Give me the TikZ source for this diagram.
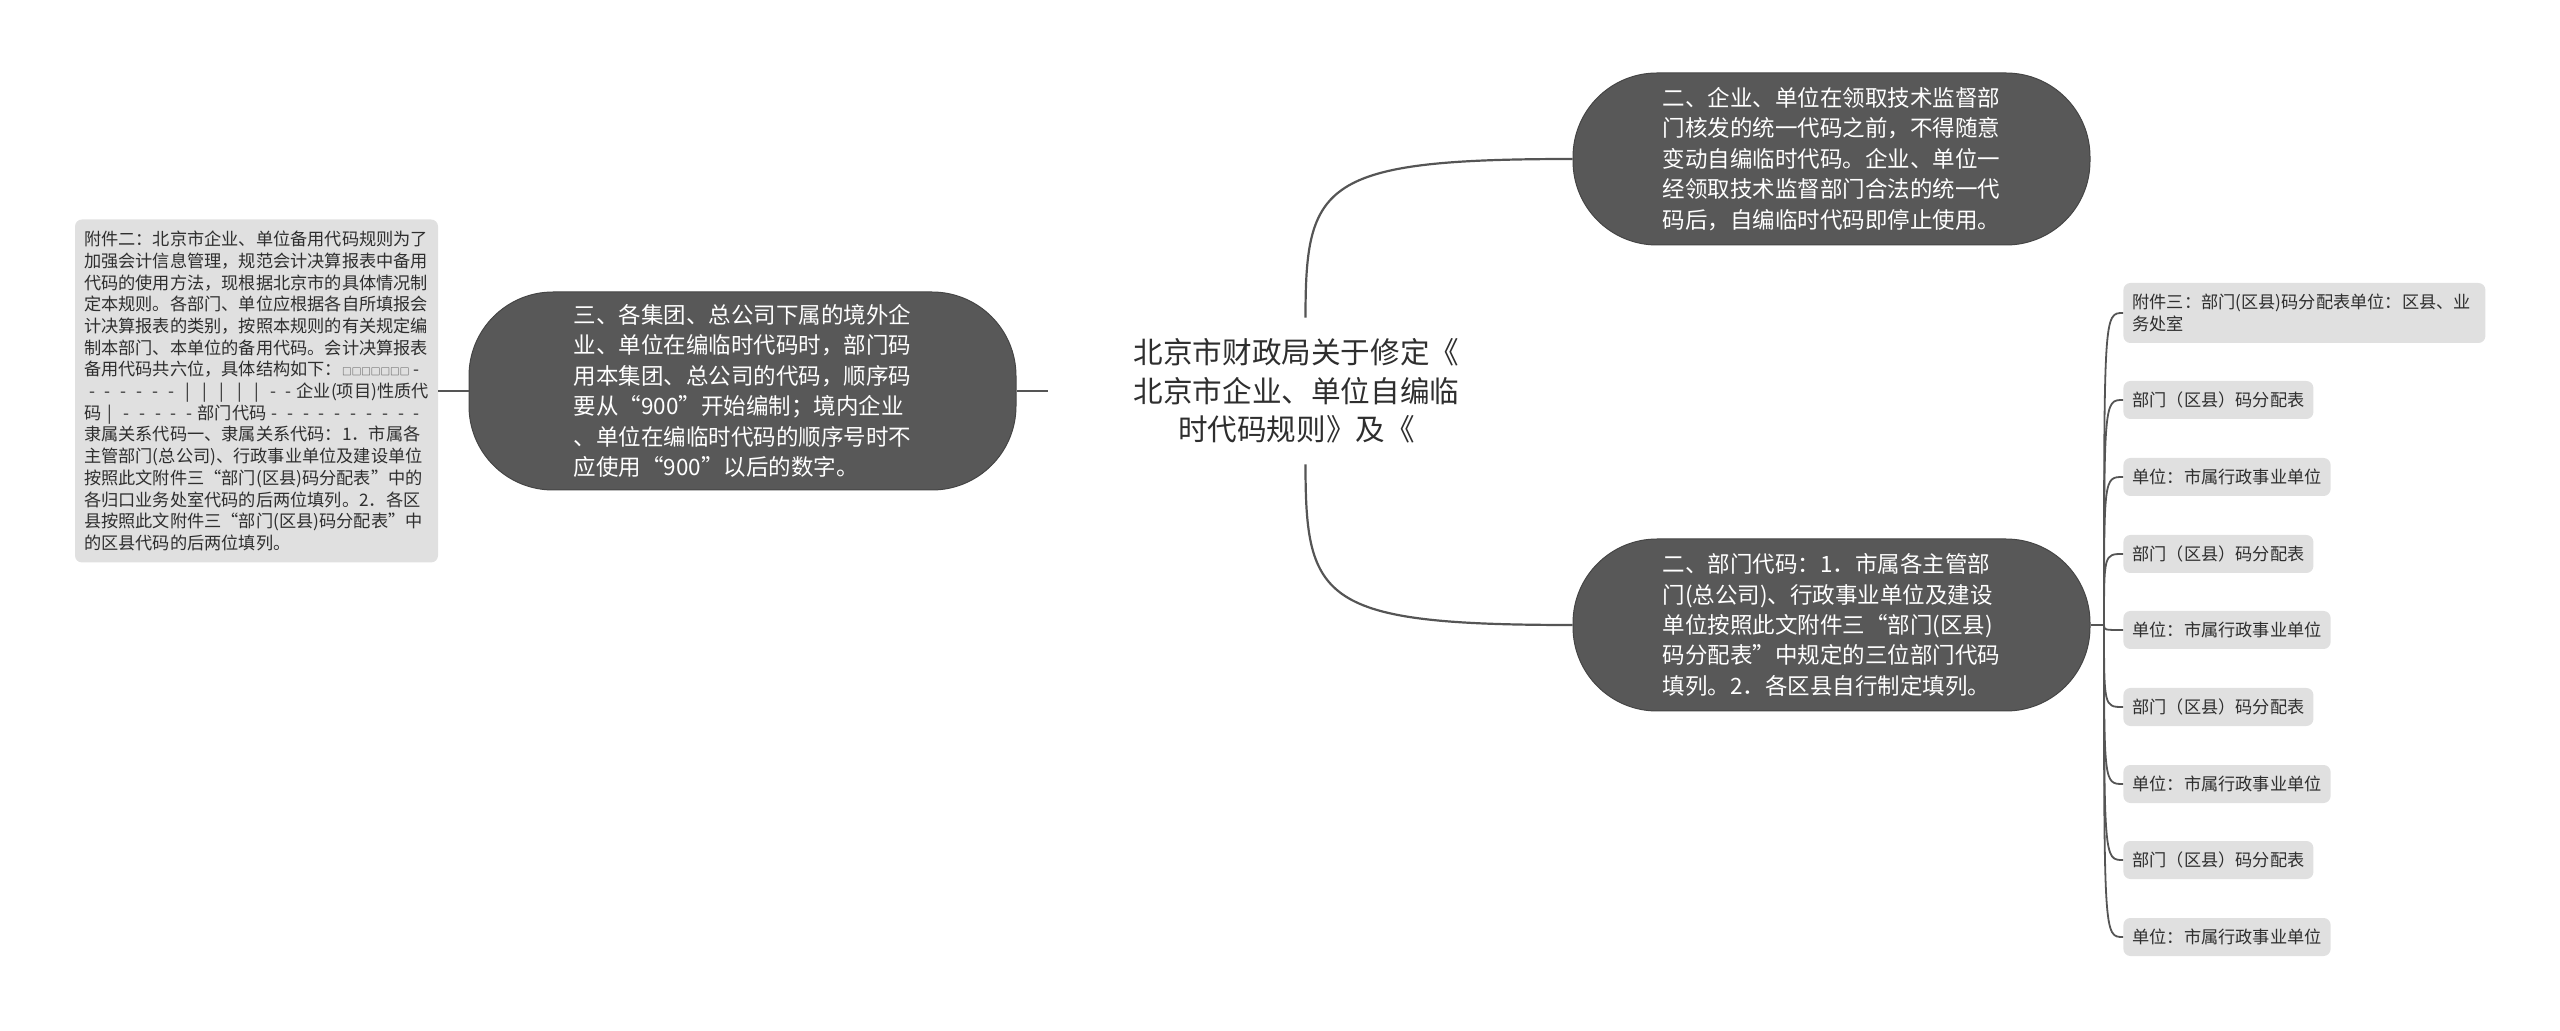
\documentclass[tikz,border=0pt]{standalone}
\usepackage{fontspec}
\setmainfont{Noto Sans CJK SC}
\definecolor{pillgray}{HTML}{585858}
\definecolor{pillline}{HTML}{454545}
\definecolor{leafgray}{HTML}{E0E0E0}
\definecolor{linegray}{HTML}{555555}
\definecolor{textgray}{HTML}{2E2E2E}
\newcommand{\dsh}{\makebox[0.92em]{-}}
\newcommand{\pp}{\makebox[1em]{|}}
\begin{document}
\begin{tikzpicture}[x=0.5pt,y=-0.5pt,
  conn/.style={draw=linegray, line width=1.1pt},
  leafconn/.style={draw=linegray, line width=0.9pt},
  pill/.style={fill=pillgray, draw=pillline, line width=0.5pt, text=white, rounded corners=42pt, inner sep=0pt, align=left, font=\fontsize{11.25pt}{15.2pt}\selectfont},
  leaf/.style={fill=leafgray, text=textgray, rounded corners=3.5pt, inner xsep=4.5pt, inner ysep=0pt, align=left, font=\fontsize{8.6pt}{10.85pt}\selectfont, anchor=west, minimum height=19pt},
]
\useasboundingbox (0,0) rectangle (2560,1031);

\node[leaf, anchor=center, minimum width=181.5pt, minimum height=171.5pt, inner sep=0pt] (att2) at (256.5,391) {%
附件二：北京市企业、单位备用代码规则为了\\
加强会计信息管理，规范会计决算报表中备用\\
代码的使用方法，现根据北京市的具体情况制\\
定本规则。各部门、单位应根据各自所填报会\\
计决算报表的类别，按照本规则的有关规定编\\
制本部门、本单位的备用代码。会计决算报表\\
备用代码共六位，具体结构如下：{\fontsize{4.8pt}{5pt}\selectfont □□□□□□□} -\\
\dsh\dsh\dsh\dsh\dsh\dsh\pp\pp\pp\pp\pp\dsh\dsh 企业(项目)性质代\\
码\pp\dsh\dsh\dsh\dsh\dsh 部门代码\dsh\dsh\dsh\dsh\dsh\dsh\dsh\dsh\dsh\dsh\\
隶属关系代码一、隶属关系代码：1．市属各\\
主管部门(总公司)、行政事业单位及建设单位\\
按照此文附件三“部门(区县)码分配表”中的\\
各归口业务处室代码的后两位填列。2．各区\\
县按照此文附件三“部门(区县)码分配表”中\\
的区县代码的后两位填列。};

\node[pill, minimum width=273.5pt, minimum height=99pt] (p3) at (742.5,391) {%
三、各集团、总公司下属的境外企\\
业、单位在编临时代码时，部门码\\
用本集团、总公司的代码，顺序码\\
要从“900”开始编制；境内企业\\
、单位在编临时代码的顺序号时不\\
应使用“900”以后的数字。};

\node[minimum width=248.5pt, minimum height=73pt, inner sep=0pt, align=center, text=textgray, font=\fontsize{14.8pt}{19.25pt}\selectfont] (ctr) at (1296.5,391) {%
北京市财政局关于修定《\\
北京市企业、单位自编临\\
时代码规则》及《};

\node[pill, minimum width=258.5pt, minimum height=86pt] (n1) at (1831.5,159) {%
二、企业、单位在领取技术监督部\\
门核发的统一代码之前，不得随意\\
变动自编临时代码。企业、单位一\\
经领取技术监督部门合法的统一代\\
码后，自编临时代码即停止使用。};

\node[pill, minimum width=258.5pt, minimum height=86pt] (n2) at (1831.5,625) {%
二、部门代码：1．市属各主管部\\
门(总公司)、行政事业单位及建设\\
单位按照此文附件三“部门(区县)\\
码分配表”中规定的三位部门代码\\
填列。2．各区县自行制定填列。};

\node[leaf, text width=172pt, minimum height=30pt] (l1) at (2123,313) {附件三：部门(区县)码分配表单位：区县、业\\务处室};
\node[leaf] (l2) at (2123,400) {部门（区县）码分配表};
\node[leaf] (l3) at (2123,477) {单位：市属行政事业单位};
\node[leaf] (l4) at (2123,554) {部门（区县）码分配表};
\node[leaf] (l5) at (2123,630) {单位：市属行政事业单位};
\node[leaf] (l6) at (2123,707) {部门（区县）码分配表};
\node[leaf] (l7) at (2123,784) {单位：市属行政事业单位};
\node[leaf] (l8) at (2123,860) {部门（区县）码分配表};
\node[leaf] (l9) at (2123,937) {单位：市属行政事业单位};

\coordinate (ctop) at ([xshift=4.5pt]ctr.north);
\coordinate (cbot) at ([xshift=4.5pt]ctr.south);
\draw[conn] (att2.east) -- (p3.west);
\draw[conn] (p3.east) -- (ctr.west);
\draw[conn] (ctop) .. controls ([yshift=-12pt]ctop |- n1.west) and ([xshift=8pt]ctop |- n1.west) .. (n1.west);
\draw[conn] (cbot) .. controls ([yshift=12pt]cbot |- n2.west) and ([xshift=8pt]cbot |- n2.west) .. (n2.west);
\coordinate (trunk) at (2104,625);
\draw[conn] (n2.east) -- (trunk);
\foreach \i in {1,...,9}
  \draw[leafconn] (trunk) .. controls (trunk |- l\i.west) and (trunk |- l\i.west) .. (l\i.west);
\end{tikzpicture}
\end{document}
